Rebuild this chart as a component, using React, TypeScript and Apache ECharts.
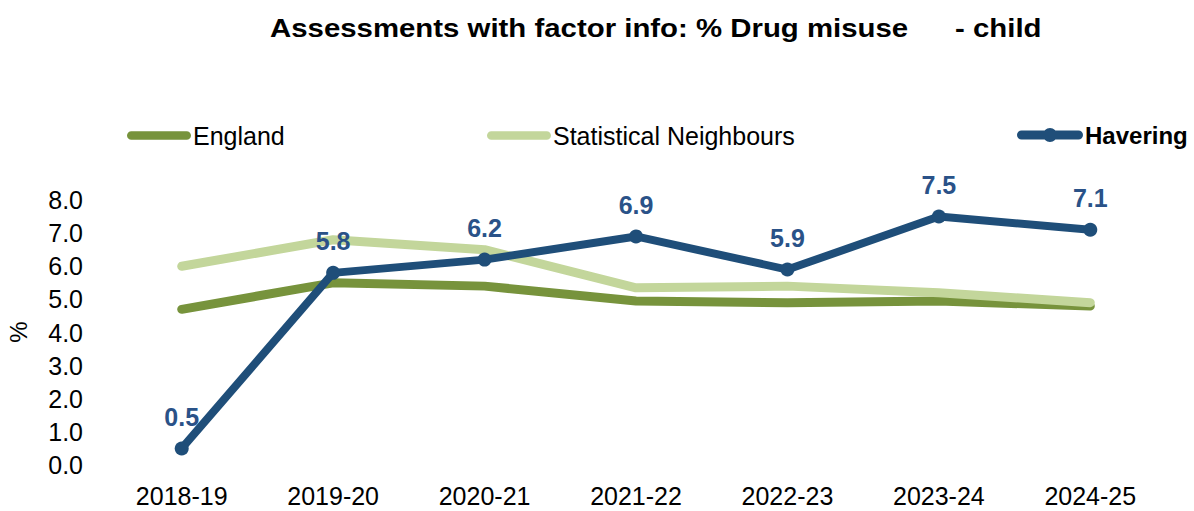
import React, { useEffect, useRef } from "react";
import * as echarts from "echarts";

const categories = ["2018-19", "2019-20", "2020-21", "2021-22", "2022-23", "2023-24", "2024-25"];
const england = [4.7, 5.5, 5.4, 4.95, 4.9, 4.95, 4.8];
const statNeighbours = [6.0, 6.8, 6.5, 5.35, 5.4, 5.2, 4.9];
const havering = [0.5, 5.8, 6.2, 6.9, 5.9, 7.5, 7.1];
const yTicks = { min: 0, max: 8, interval: 1 };

const FONT = "'Liberation Sans', Arial, sans-serif";
const BLUE = "#1F4E79";
const DARKGREEN = "#77933C";
const LIGHTGREEN = "#C3D69B";

const lineIcon = "path://M4.5,0 H61.5 A4.5,4.5 0 0 1 61.5,9 H4.5 A4.5,4.5 0 0 1 4.5,0 Z";
const markerIcon =
  "path://M4.5,2.5 H61.5 A4.5,4.5 0 0 1 61.5,11.5 H4.5 A4.5,4.5 0 0 1 4.5,2.5 Z M26,7 A7,7 0 1 1 40,7 A7,7 0 1 1 26,7 Z";

export default function App() {
  const ref = useRef<HTMLDivElement>(null);
  useEffect(() => {
    if (!ref.current) return;
    const chart = echarts.init(ref.current, undefined, { renderer: "svg" });
    const legendText = { fontFamily: FONT, fontSize: 25, color: "#000", padding: [0, 0, 0, -3] };
    chart.setOption({
      animation: false,
      backgroundColor: "#ffffff",
      legend: [
        { data: [{ name: "England", icon: lineIcon }], left: 122, top: 118, itemWidth: 64, itemHeight: 9, textStyle: legendText },
        { data: [{ name: "Statistical Neighbours", icon: lineIcon }], left: 482, top: 118, itemWidth: 64, itemHeight: 9, textStyle: legendText },
        {
          data: [{ name: "Havering", icon: markerIcon }], left: 1012, top: 118, itemWidth: 66, itemHeight: 14,
          textStyle: { ...legendText, fontSize: 24, fontWeight: "bold" },
        },
      ],
      grid: { left: 106, right: 28, top: 200, bottom: 46 },
      xAxis: {
        type: "category",
        data: categories,
        boundaryGap: true,
        axisLine: { show: false },
        axisTick: { show: false },
        axisLabel: { fontFamily: FONT, fontSize: 25, color: "#000", margin: 18 },
      },
      yAxis: {
        type: "value",
        min: yTicks.min,
        max: yTicks.max,
        interval: yTicks.interval,
        splitLine: { show: false },
        axisLine: { show: false },
        axisTick: { show: false },
        axisLabel: {
          fontFamily: FONT, fontSize: 25, color: "#000", margin: 23,
          formatter: (v: number) => v.toFixed(1),
        },
      },
      graphic: [
        {
          type: "text", x: 270, y: 28, scaleX: 1.13,
          style: { text: "Assessments with factor info: % Drug misuse", fontFamily: FONT, fontSize: 26, fontWeight: "bold", fill: "#000", align: "left", verticalAlign: "middle" },
        },
        {
          type: "text", x: 955, y: 28, scaleX: 1.13,
          style: { text: "- child", fontFamily: FONT, fontSize: 26, fontWeight: "bold", fill: "#000", align: "left", verticalAlign: "middle" },
        },
        {
          type: "text", x: 18, y: 332, rotation: Math.PI / 2,
          style: { text: "%", fontFamily: FONT, fontSize: 24, fill: "#000", align: "center", verticalAlign: "middle" },
        },
      ],
      series: [
        {
          name: "England", type: "line", data: england, showSymbol: false, symbol: "none",
          itemStyle: { color: DARKGREEN }, lineStyle: { color: DARKGREEN, width: 9, cap: "round", join: "round" },
        },
        {
          name: "Statistical Neighbours", type: "line", data: statNeighbours, showSymbol: false, symbol: "none",
          itemStyle: { color: LIGHTGREEN }, lineStyle: { color: LIGHTGREEN, width: 9, cap: "round", join: "round" },
        },
        {
          name: "Havering", type: "line", data: havering, symbol: "circle", symbolSize: 14,
          itemStyle: { color: BLUE }, lineStyle: { color: BLUE, width: 8, cap: "round", join: "round" },
          label: {
            show: true, position: "top", distance: 12, formatter: (p: any) => p.value.toFixed(1),
            fontFamily: FONT, fontSize: 25, fontWeight: "bold", color: "#2A5288",
          },
          z: 5,
        },
      ],
    });
    return () => chart.dispose();
  }, []);
  return <div ref={ref} style={{ width: 1194, height: 511, position: "absolute", left: 0, top: 0 }} />;
}
